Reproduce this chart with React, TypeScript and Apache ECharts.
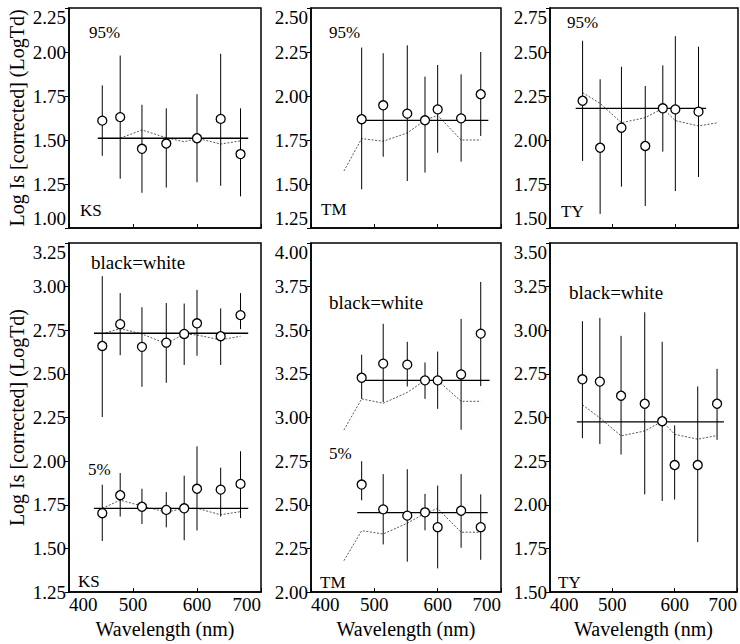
import React, { useEffect, useRef } from "react";
import * as echarts from "echarts";

// Wavelengths (nm)
const wlAll = [452, 480, 514, 552, 580, 600, 637, 668];
const wlNo580 = [452, 480, 514, 552, 600, 637, 668];
const wlNo452 = [480, 514, 552, 580, 600, 637, 668];
const wlNo668 = [452, 480, 514, 552, 580, 600, 637];

// Top-left: KS, 95%
const ks95Mean = [1.61, 1.63, 1.45, 1.48, 1.51, 1.62, 1.42];
const ks95Hi = [1.81, 1.98, 1.70, 1.68, 1.76, 1.99, 1.68];
const ks95Lo = [1.41, 1.28, 1.20, 1.23, 1.26, 1.24, 1.18];
const ks95Fit = 1.51;
const ks95FitSpan = [445, 680];
const ks95Model = [1.51, 1.557, 1.513, 1.49, 1.51, 1.477, 1.495];

// Top-middle: TM, 95%
const tm95Mean = [1.868, 1.947, 1.90, 1.862, 1.924, 1.873, 2.01];
const tm95Hi = [2.275, 2.243, 2.288, 2.11, 2.176, 2.123, 2.25];
const tm95Lo = [1.47, 1.655, 1.517, 1.565, 1.678, 1.627, 1.773];
const tm95Fit = 1.862;
const tm95FitSpan = [474, 680];
const tm95Model = [1.574, 1.758, 1.743, 1.79, 1.862, 1.89, 1.75, 1.75];

// Top-right: TY, 95%
const ty95Mean = [2.223, 1.956, 2.07, 1.966, 2.18, 2.174, 2.161];
const ty95Hi = [2.564, 2.345, 2.416, 2.307, 2.424, 2.59, 2.53];
const ty95Lo = [1.881, 1.58, 1.735, 1.625, 1.934, 1.71, 1.79];
const ty95Fit = 2.18;
const ty95FitSpan = [441, 649];
const ty95Model = [2.269, 2.208, 2.098, 2.127, 2.18, 2.11, 2.08, 2.098];

// Bottom-left: KS, black=white and 5%
const ksBwMean = [2.66, 2.785, 2.655, 2.679, 2.729, 2.79, 2.716, 2.837];
const ksBwHi = [3.06, 2.963, 2.882, 2.906, 2.903, 2.981, 2.875, 2.963];
const ksBwLo = [2.253, 2.607, 2.426, 2.449, 2.551, 2.604, 2.551, 2.757];
const ksBwFit = 2.733;
const ksBwFitSpan = [439, 680];
const ksBwModel = [2.729, 2.76, 2.729, 2.673, 2.729, 2.723, 2.695, 2.716];

const ks5Mean = [1.702, 1.805, 1.739, 1.721, 1.73, 1.842, 1.837, 1.87];
const ks5Hi = [1.865, 1.932, 1.842, 1.823, 1.917, 2.085, 1.963, 2.057];
const ks5Lo = [1.543, 1.683, 1.64, 1.621, 1.547, 1.603, 1.683, 1.674];
const ks5Fit = 1.73;
const ks5FitSpan = [439, 680];
const ks5Model = [1.73, 1.777, 1.743, 1.708, 1.73, 1.73, 1.693, 1.711];

// Bottom-middle: TM, black=white and 5%
const tmBwMean = [3.228, 3.309, 3.303, 3.213, 3.213, 3.247, 3.481];
const tmBwHi = [3.36, 3.537, 3.434, 3.316, 3.378, 3.565, 3.777];
const tmBwLo = [3.107, 3.088, 3.178, 3.107, 3.05, 2.93, 3.18];
const tmBwFit = 3.213;
const tmBwFitSpan = [481, 682];
const tmBwModel = [2.929, 3.107, 3.082, 3.144, 3.213, 3.213, 3.093, 3.093];

const tm5Mean = [2.616, 2.474, 2.438, 2.457, 2.372, 2.466, 2.372];
const tm5Hi = [2.75, 2.676, 2.704, 2.563, 2.61, 2.676, 2.56];
const tm5Lo = [2.526, 2.273, 2.174, 2.354, 2.136, 2.254, 2.185];
const tm5Fit = 2.455;
const tm5FitSpan = [473, 679];
const tm5Model = [2.18, 2.352, 2.333, 2.395, 2.451, 2.479, 2.343, 2.343];

// Bottom-right: TY, black=white
const tyBwMean = [2.719, 2.706, 2.625, 2.579, 2.479, 2.228, 2.228, 2.579];
const tyBwHi = [3.052, 3.071, 2.968, 3.103, 2.934, 2.455, 2.678, 2.779];
const tyBwLo = [2.382, 2.348, 2.288, 2.06, 2.022, 2.03, 1.787, 2.372];
const tyBwFit = 2.475;
const tyBwFitSpan = [443, 679];
const tyBwModel = [2.573, 2.498, 2.395, 2.423, 2.479, 2.404, 2.376, 2.397];

// Axes
const xTicks = [400, 500, 600, 700];
const yRanges = [
  [1.0, 2.25],
  [1.25, 2.5],
  [1.5, 2.75],
  [1.25, 3.25],
  [2.0, 4.0],
  [1.5, 3.5],
];
const yTitle = "Log Is [corrected] (LogTd)";
const xTitle = "Wavelength (nm)";

const FONT = "Liberation Serif";

type DataSet = {
  wl: number[];
  mean: number[];
  hi: number[];
  lo: number[];
  fit: number;
  span: number[];
  model: number[];
};

const panelSets: DataSet[][] = [
  [{ wl: wlNo580, mean: ks95Mean, hi: ks95Hi, lo: ks95Lo, fit: ks95Fit, span: ks95FitSpan, model: ks95Model }],
  [{ wl: wlNo452, mean: tm95Mean, hi: tm95Hi, lo: tm95Lo, fit: tm95Fit, span: tm95FitSpan, model: tm95Model }],
  [{ wl: wlNo668, mean: ty95Mean, hi: ty95Hi, lo: ty95Lo, fit: ty95Fit, span: ty95FitSpan, model: ty95Model }],
  [
    { wl: wlAll, mean: ksBwMean, hi: ksBwHi, lo: ksBwLo, fit: ksBwFit, span: ksBwFitSpan, model: ksBwModel },
    { wl: wlAll, mean: ks5Mean, hi: ks5Hi, lo: ks5Lo, fit: ks5Fit, span: ks5FitSpan, model: ks5Model },
  ],
  [
    { wl: wlNo452, mean: tmBwMean, hi: tmBwHi, lo: tmBwLo, fit: tmBwFit, span: tmBwFitSpan, model: tmBwModel },
    { wl: wlNo452, mean: tm5Mean, hi: tm5Hi, lo: tm5Lo, fit: tm5Fit, span: tm5FitSpan, model: tm5Model },
  ],
  [{ wl: wlAll, mean: tyBwMean, hi: tyBwHi, lo: tyBwLo, fit: tyBwFit, span: tyBwFitSpan, model: tyBwModel }],
];

const grids = [
  { left: 69, top: 8, width: 192, height: 220 },
  { left: 311, top: 8, width: 190, height: 220 },
  { left: 550, top: 8, width: 188, height: 220 },
  { left: 69, top: 243, width: 192, height: 357 },
  { left: 311, top: 243, width: 190, height: 357 },
  { left: 550, top: 243, width: 188, height: 357 },
];

const annotations = [
  { text: "95%", x: 89, y: 33, size: 17 },
  { text: "KS", x: 80, y: 211, size: 17 },
  { text: "95%", x: 329, y: 33, size: 17 },
  { text: "TM", x: 321, y: 210, size: 17 },
  { text: "95%", x: 567, y: 23, size: 17 },
  { text: "TY", x: 561, y: 212, size: 17 },
  { text: "black=white", x: 91, y: 263, size: 19 },
  { text: "5%", x: 88, y: 470, size: 17 },
  { text: "KS", x: 78, y: 582, size: 17 },
  { text: "black=white", x: 329, y: 303, size: 19 },
  { text: "5%", x: 329, y: 454, size: 17 },
  { text: "TM", x: 320, y: 583, size: 17 },
  { text: "black=white", x: 569, y: 293, size: 19 },
  { text: "TY", x: 558, y: 583, size: 17 },
];

function buildOption() {
  const xAxis = grids.map((_, i) => {
    const bottom = i >= 3;
    return {
      type: "value",
      gridIndex: i,
      min: xTicks[0],
      max: xTicks[xTicks.length - 1],
      interval: 100,
      splitLine: { show: false },
      axisLine: { show: true, lineStyle: { color: "#000", width: 1.5 } },
      axisTick: { show: true, inside: true, length: 4, lineStyle: { color: "#000", width: 1 } },
      axisLabel: {
        show: bottom,
        color: "#000",
        fontFamily: FONT,
        fontSize: 19,
        margin: 3,
        alignMinLabel: "left",
        alignMaxLabel: "right",
      },
      name: bottom ? xTitle : "",
      nameLocation: "middle",
      nameGap: 21,
      nameTextStyle: { color: "#000", fontFamily: FONT, fontSize: 20 },
    };
  });
  const yAxis = grids.map((_, i) => {
    const top = i < 3;
    const left = i === 0 || i === 3;
    return {
      type: "value",
      gridIndex: i,
      min: yRanges[i][0],
      max: yRanges[i][1],
      interval: 0.25,
      splitLine: { show: false },
      axisLine: { show: true, lineStyle: { color: "#000", width: 1.5 } },
      axisTick: { show: true, inside: false, length: 4, lineStyle: { color: "#000", width: 1 } },
      axisLabel: {
        color: "#000",
        fontFamily: FONT,
        fontSize: 19,
        margin: 3,
        formatter: (v: number) => v.toFixed(2),
        verticalAlignMaxLabel: "top",
        verticalAlignMinLabel: top ? "bottom" : "middle",
      },
      name: left ? yTitle : "",
      nameLocation: "middle",
      nameRotate: 90,
      nameGap: 42,
      nameTextStyle: { color: "#000", fontFamily: FONT, fontSize: 20 },
    };
  });

  const series: any[] = [];
  panelSets.forEach((sets, i) => {
    sets.forEach((s) => {
      // model curve (dotted)
      series.push({
        type: "line",
        xAxisIndex: i,
        yAxisIndex: i,
        data: wlAll.slice(wlAll.length - s.model.length).map((w, k) => [w, s.model[k]]),
        symbol: "none",
        lineStyle: { color: "#444", width: 0.9, type: [2, 1.6] },
        z: 2,
      });
      // fitted horizontal line
      series.push({
        type: "line",
        xAxisIndex: i,
        yAxisIndex: i,
        data: s.span.map((w) => [w, s.fit]),
        symbol: "none",
        lineStyle: { color: "#000", width: 1.3 },
        z: 3,
      });
      // error bars
      series.push({
        type: "custom",
        xAxisIndex: i,
        yAxisIndex: i,
        data: s.wl.map((w, k) => [w, s.lo[k], s.hi[k]]),
        encode: { x: 0, y: [1, 2] },
        renderItem: (params: any, api: any) => {
          const x = api.value(0);
          const p1 = api.coord([x, api.value(1)]);
          const p2 = api.coord([x, api.value(2)]);
          return {
            type: "line",
            shape: { x1: p1[0], y1: p1[1], x2: p2[0], y2: p2[1] },
            style: { stroke: "#000", lineWidth: 1 },
          };
        },
        z: 4,
      });
      // means
      series.push({
        type: "scatter",
        xAxisIndex: i,
        yAxisIndex: i,
        data: s.wl.map((w, k) => [w, s.mean[k]]),
        symbol: "circle",
        symbolSize: 9,
        itemStyle: { color: "#fff", borderColor: "#000", borderWidth: 1.3, opacity: 1 },
        z: 5,
      });
    });
  });

  const graphic = annotations.map((a) => ({
    type: "text",
    left: a.x,
    top: a.y - Math.round(a.size / 2),
    style: { text: a.text, fill: "#000", fontFamily: FONT, fontSize: a.size },
    z: 10,
  }));

  return {
    animation: false,
    backgroundColor: "#fff",
    textStyle: { fontFamily: FONT },
    grid: grids.map((g) => ({ ...g, show: true, borderColor: "#000", borderWidth: 1.5, backgroundColor: "transparent" })),
    xAxis,
    yAxis,
    series,
    graphic,
  };
}

export default function App() {
  const ref = useRef<HTMLDivElement>(null);
  useEffect(() => {
    if (!ref.current) return;
    const chart = echarts.init(ref.current, null, { renderer: "svg" });
    chart.setOption(buildOption() as any);
    return () => chart.dispose();
  }, []);
  return (
    <div
      ref={ref}
      style={{ position: "fixed", left: 0, top: 0, width: 740, height: 644, background: "#fff" }}
    />
  );
}
